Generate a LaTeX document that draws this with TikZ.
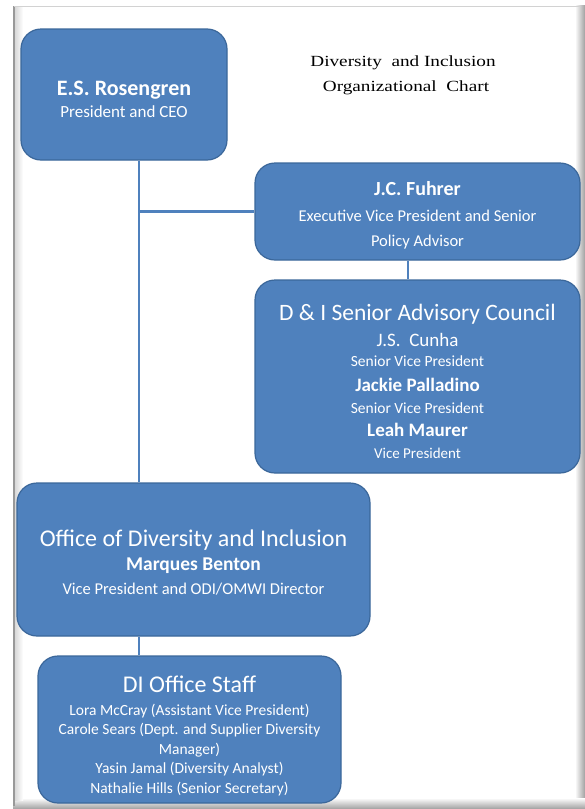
\documentclass[tikz,border=0pt]{standalone}
\usepackage{fontspec}
\setmainfont{Carlito}
\newfontfamily\titlefont{Liberation Serif}
\definecolor{boxblue}{HTML}{4F81BD}
\definecolor{boxedge}{HTML}{3B679A}
\begin{document}
\begin{tikzpicture}[x=1pt,y=-1pt,
  box/.style={draw=boxedge, line width=1.2pt, fill=boxblue, rounded corners=20pt, inner sep=0pt},
  conn/.style={draw=boxblue, line width=2.2pt},
  txt/.style={text=white, inner sep=0pt, anchor=base},
  title/.style={inner sep=0pt, anchor=base, font=\titlefont\fontsize{15.5}{18}\selectfont},
  big/.style={font=\fontsize{23.5}{26}\selectfont},
  nameb/.style={font=\fontsize{19}{22}\selectfont\bfseries},
  role/.style={font=\fontsize{15.5}{18}\selectfont},
  staff/.style={font=\fontsize{15.5}{18}\selectfont}]
\useasboundingbox (0,0) rectangle (585,809);
\fill[white] (0,0) rectangle (585,809);
% frame
\shade[left color=white, right color=gray!75] (575,5) rectangle (585,806);
\shade[top color=white, bottom color=gray!75] (13,798) rectangle (585,809);
\shade[left color=gray!30, right color=white] (15,6) rectangle (23,800);
\draw[gray!80, line width=1.5pt] (14,6) -- (14,806);
\draw[gray!35, line width=0.8pt] (14,6) -- (580,6);
% boxes
\node[box, minimum width=206pt, minimum height=131pt] (ros) at (124,94.5) {};
\node[box, minimum width=325pt, minimum height=97pt] (fuh) at (417.5,211.5) {};
\node[box, minimum width=325pt, minimum height=193pt] (cou) at (417.5,376.5) {};
\node[box, minimum width=353pt, minimum height=153pt] (odi) at (193.5,559.5) {};
\node[box, minimum width=303pt, minimum height=147pt] (stf) at (189.5,729.5) {};
% connectors
\coordinate (top) at ([xshift=15pt]ros.south);
\coordinate (jn) at (top |- fuh.west);
\draw[conn] (top) -- (top |- odi.north);
\draw[conn] (jn) -- (fuh.west);
\draw[conn] ([xshift=-9.5pt]fuh.south) -- ([xshift=-9.5pt]fuh.south |- cou.north);
\draw[conn] (top |- odi.south) -- (top |- stf.north);
% title
\node[title] (t1) at (403,66) {\scalebox{1.24}[1]{Diversity\ \ and Inclusion}};
\node[title] (t2) at (406,91) {\scalebox{1.24}[1]{Organizational\ \ Chart}};
% Rosengren
\node[txt, font=\fontsize{22}{25}\selectfont\bfseries] (r1) at (124,95) {E.S. Rosengren};
\node[txt, font=\fontsize{17}{20}\selectfont] (r2) at (124,117) {President and CEO};
% Fuhrer
\node[txt, font=\fontsize{20}{23}\selectfont\bfseries] (f1) at (417.5,195) {J.C. Fuhrer};
\node[txt, font=\fontsize{16.5}{19}\selectfont] (f2) at (417.5,221) {Executive Vice President and Senior};
\node[txt, font=\fontsize{16.5}{19}\selectfont] (f3) at (417.5,246) {Policy Advisor};
% Council
\node[txt, big] (c1) at (417.5,320) {D \& I Senior Advisory Council};
\node[txt, font=\fontsize{19}{22}\selectfont] (c2) at (417.5,346) {J.S.\ \ Cunha};
\node[txt, role] (c3) at (417.5,366) {Senior Vice President};
\node[txt, nameb] (c4) at (417.5,391) {Jackie Palladino};
\node[txt, role] (c5) at (417.5,413) {Senior Vice President};
\node[txt, nameb] (c6) at (417.5,436) {Leah Maurer};
\node[txt, font=\fontsize{15}{18}\selectfont] (c7) at (417.5,458) {Vice President};
% ODI
\node[txt, font=\fontsize{24}{27}\selectfont] (o1) at (193.5,546) {Office of Diversity and Inclusion};
\node[txt, font=\fontsize{19.5}{22}\selectfont\bfseries] (o2) at (193.5,570) {Marques Benton};
\node[txt, font=\fontsize{16.5}{19}\selectfont] (o3) at (193.5,594) {Vice President and ODI/OMWI Director};
% Staff
\node[txt, font=\fontsize{24}{27}\selectfont] (s1) at (189.5,692) {DI Office Staff};
\node[txt, staff] (s2) at (189.5,715) {Lora McCray (Assistant Vice President)};
\node[txt, staff] (s3) at (189.5,734.5) {Carole Sears (Dept. and Supplier Diversity};
\node[txt, staff] (s4) at (189.5,754) {Manager)};
\node[txt, staff] (s5) at (189.5,773.5) {Yasin Jamal (Diversity Analyst)};
\node[txt, staff] (s6) at (189.5,793) {Nathalie Hills (Senior Secretary)};
\end{tikzpicture}
\end{document}
